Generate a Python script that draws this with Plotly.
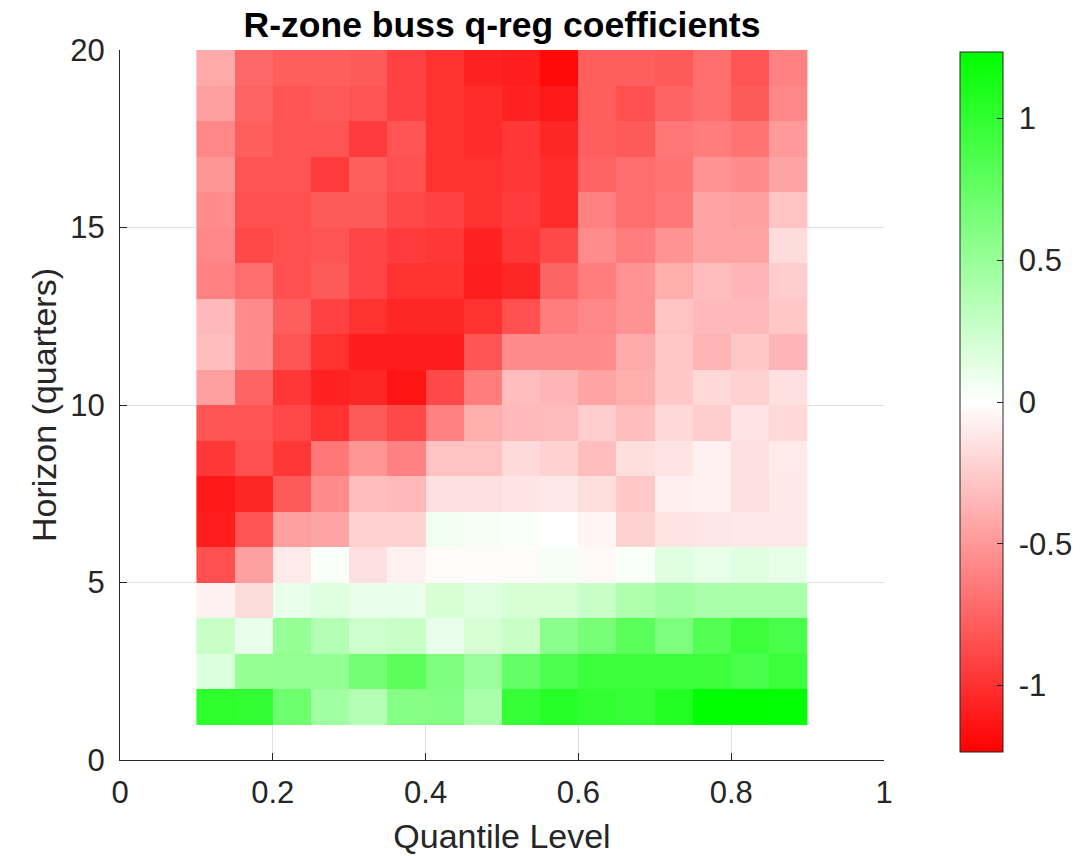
import plotly.graph_objects as go

# Quantile levels (cell edges) and forecast horizons (cell edges, quarters)
quantile_edges = [0.10, 0.15, 0.20, 0.25, 0.30, 0.35, 0.40, 0.45, 0.50,
                  0.55, 0.60, 0.65, 0.70, 0.75, 0.80, 0.85, 0.90]
horizon_edges = list(range(1, 21))

# Quantile-regression coefficients, one row per horizon band (1-2 up to 19-20),
# one column per quantile band (0.10-0.15 up to 0.85-0.90)
h01 = [1.02, 1.00, 0.70, 0.46, 0.37, 0.58, 0.60, 0.41, 0.97, 1.05, 1.00, 0.97, 1.07, 1.24, 1.24, 1.22]
h02 = [0.17, 0.51, 0.53, 0.53, 0.68, 0.80, 0.63, 0.49, 0.75, 0.85, 0.95, 0.95, 0.95, 0.95, 0.88, 0.95]
h03 = [0.27, 0.10, 0.51, 0.37, 0.24, 0.27, 0.10, 0.20, 0.27, 0.56, 0.66, 0.80, 0.63, 0.83, 0.95, 0.88]
h04 = [-0.07, -0.17, 0.10, 0.15, 0.10, 0.10, 0.20, 0.15, 0.20, 0.20, 0.27, 0.39, 0.46, 0.41, 0.41, 0.41]
h05 = [-0.85, -0.46, -0.10, 0.03, -0.15, -0.07, -0.02, -0.02, -0.02, 0.05, -0.03, 0.03, 0.15, 0.11, 0.15, 0.12]
h06 = [-1.09, -0.83, -0.46, -0.44, -0.22, -0.22, 0.07, 0.05, 0.03, 0.00, -0.05, -0.22, -0.13, -0.12, -0.11, -0.11]
h07 = [-1.12, -1.05, -0.80, -0.56, -0.32, -0.34, -0.15, -0.15, -0.13, -0.11, -0.16, -0.27, -0.08, -0.07, -0.15, -0.11]
h08 = [-0.97, -0.85, -0.97, -0.66, -0.51, -0.61, -0.29, -0.29, -0.18, -0.22, -0.32, -0.16, -0.13, -0.07, -0.15, -0.10]
h09 = [-0.83, -0.83, -0.88, -1.00, -0.80, -0.88, -0.61, -0.39, -0.34, -0.33, -0.24, -0.32, -0.19, -0.24, -0.13, -0.19]
h10 = [-0.46, -0.75, -0.97, -1.07, -1.05, -1.14, -0.88, -0.63, -0.32, -0.36, -0.44, -0.39, -0.27, -0.19, -0.23, -0.15]
h11 = [-0.32, -0.56, -0.83, -1.00, -1.10, -1.10, -1.10, -0.83, -0.56, -0.56, -0.56, -0.41, -0.27, -0.36, -0.27, -0.36]
h12 = [-0.34, -0.56, -0.78, -0.92, -1.00, -1.05, -1.05, -1.00, -0.85, -0.63, -0.58, -0.53, -0.29, -0.34, -0.34, -0.27]
h13 = [-0.61, -0.70, -0.85, -0.80, -0.90, -1.00, -1.00, -1.09, -1.05, -0.75, -0.63, -0.53, -0.39, -0.32, -0.36, -0.24]
h14 = [-0.58, -0.88, -0.85, -0.83, -0.90, -0.95, -0.97, -1.07, -0.97, -0.88, -0.56, -0.63, -0.53, -0.44, -0.44, -0.17]
h15 = [-0.56, -0.85, -0.85, -0.80, -0.80, -0.88, -0.92, -1.00, -0.95, -1.02, -0.61, -0.70, -0.66, -0.44, -0.46, -0.29]
h16 = [-0.51, -0.83, -0.83, -0.95, -0.78, -0.85, -1.00, -1.00, -0.97, -1.02, -0.75, -0.70, -0.68, -0.53, -0.56, -0.44]
h17 = [-0.58, -0.78, -0.83, -0.83, -0.95, -0.83, -1.00, -1.02, -0.97, -1.05, -0.78, -0.80, -0.66, -0.63, -0.68, -0.49]
h18 = [-0.46, -0.75, -0.83, -0.80, -0.83, -0.92, -1.00, -1.02, -1.07, -1.12, -0.78, -0.85, -0.75, -0.70, -0.80, -0.58]
h19 = [-0.41, -0.73, -0.78, -0.78, -0.80, -0.92, -1.00, -1.07, -1.09, -1.19, -0.78, -0.78, -0.80, -0.70, -0.83, -0.61]

coefficients = [h01, h02, h03, h04, h05, h06, h07, h08, h09, h10,
                h11, h12, h13, h14, h15, h16, h17, h18, h19]

x_ticks = [0, 0.2, 0.4, 0.6, 0.8, 1]
x_tick_labels = ["0", "0.2", "0.4", "0.6", "0.8", "1"]
y_ticks = [0, 5, 10, 15, 20]
cbar_ticks = [-1, -0.5, 0, 0.5, 1]
cbar_tick_labels = ["-1", "-0.5", "0", "0.5", "1"]

color_limit = 1.235
FONT = "Liberation Sans, Arial, Helvetica, sans-serif"
AXIS_COLOR = "#262626"
NBSP = "\u00a0"

# Left, top, right, bottom of the axes box in pixels
W, H = 1092, 856
L, T, R, B = 120, 50, 884, 760

fig = go.Figure(go.Heatmap(
    x=quantile_edges,
    y=horizon_edges,
    z=coefficients,
    zmin=-color_limit,
    zmax=color_limit,
    colorscale=[[0.0, "rgb(255,0,0)"], [0.5, "rgb(255,255,255)"], [1.0, "rgb(0,255,0)"]],
    hovertemplate="q=%{x}<br>h=%{y}<br>%{z:.2f}<extra></extra>",
    colorbar=dict(
        thickness=43,
        lenmode="pixels",
        len=700,
        x=(960 - L) / (R - L),
        xanchor="left",
        xpad=0,
        y=(B - 52) / (B - T),
        yanchor="top",
        ypad=0,
        outlinewidth=1,
        outlinecolor=AXIS_COLOR,
        tickmode="array",
        tickvals=cbar_ticks,
        ticktext=[NBSP + t for t in cbar_tick_labels],
        ticks="inside",
        ticklen=6,
        tickcolor=AXIS_COLOR,
        tickfont=dict(family=FONT, size=31, color=AXIS_COLOR),
    ),
))

fig.update_layout(
    width=W,
    height=H,
    margin=dict(l=L, r=W - R, t=T, b=H - B, pad=0, autoexpand=False),
    paper_bgcolor="white",
    plot_bgcolor="white",
    font=dict(family=FONT, color=AXIS_COLOR),
    title=dict(
        text="<b>R-zone buss q-reg coefficients</b>",
        font=dict(family=FONT, size=35.5, color="black"),
        x=(L + R) / 2 / W,
        xanchor="center",
        xref="container",
        y=1 - 25 / H,
        yanchor="middle",
        yref="container",
    ),
    xaxis=dict(
        range=[0, 1],
        automargin=False,
        tickmode="array",
        tickvals=x_ticks,
        ticktext=x_tick_labels,
        ticks="inside",
        ticklen=7,
        tickcolor=AXIS_COLOR,
        tickfont=dict(family=FONT, size=31, color=AXIS_COLOR),
        ticklabelstandoff=5,
        showline=True,
        linecolor=AXIS_COLOR,
        linewidth=1,
        showgrid=True,
        gridcolor="#dfdfdf",
        gridwidth=1,
        zeroline=False,
        title=dict(text="Quantile Level", font=dict(family=FONT, size=34, color=AXIS_COLOR), standoff=14),
    ),
    yaxis=dict(
        range=[0, 20],
        automargin=False,
        tickmode="array",
        tickvals=y_ticks,
        ticks="inside",
        ticklen=7,
        tickcolor=AXIS_COLOR,
        tickfont=dict(family=FONT, size=31, color=AXIS_COLOR),
        ticklabelstandoff=8,
        showline=True,
        linecolor=AXIS_COLOR,
        linewidth=1,
        showgrid=True,
        gridcolor="#dfdfdf",
        gridwidth=1,
        zeroline=False,
        title=dict(text="Horizon (quarters)", font=dict(family=FONT, size=34, color=AXIS_COLOR), standoff=3),
    ),
)

fig.write_html("out.html")
